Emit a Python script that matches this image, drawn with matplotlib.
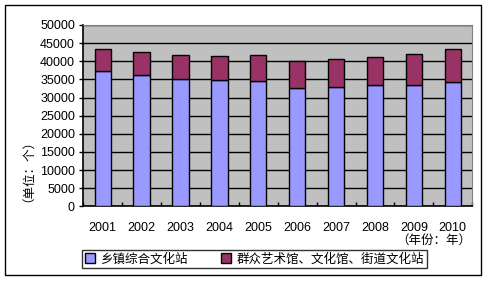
import matplotlib
matplotlib.use("Agg")
import matplotlib.pyplot as plt
from matplotlib.patches import Rectangle
import numpy as np

plt.rcParams['font.family'] = ['Liberation Sans', 'Noto Sans CJK SC', 'DejaVu Sans']

years = ['2001', '2002', '2003', '2004', '2005', '2006', '2007', '2008', '2009', '2010']
township = [37200, 36100, 35000, 34700, 34500, 32500, 32800, 33400, 33400, 34200]
totals = [43300, 42500, 41600, 41400, 41600, 40000, 40500, 41100, 41900, 43300]
others = [t - s for t, s in zip(totals, township)]
series_names = ['乡镇综合文化站', '群众艺术馆、文化馆、街道文化站']

fig = plt.figure(figsize=(4.88, 2.82), dpi=100)
ax = fig.add_axes([0.1707, 0.2684, 0.797, 0.643])
ax.set_facecolor('#C0C0C0')

x = np.arange(len(years))
ax.bar(x, township, width=0.42, color='#9999FF', edgecolor='black', linewidth=1, zorder=3, label=series_names[0])
ax.bar(x, others, bottom=township, width=0.42, color='#993366', edgecolor='black', linewidth=1, zorder=3, label=series_names[1])

ax.set_xlim(-0.5, len(years) - 0.5)
ax.set_ylim(0, 50000)
ax.set_yticks(range(0, 50001, 5000))
ax.yaxis.grid(True, color='black', linewidth=1, zorder=1)
ax.set_axisbelow(True)

ax.set_xticks(x)
ax.set_xticklabels(years, fontsize=9)
ax.set_xticks(np.arange(-0.5, len(years), 1), minor=True)
ax.tick_params(axis='x', which='major', length=0, pad=11)
ax.tick_params(axis='x', which='minor', length=3, direction='in', width=1)
ax.tick_params(axis='y', length=3, width=1, labelsize=9, pad=3)

ax.spines['top'].set_color('#808080')
ax.spines['right'].set_color('#808080')
for s in ['left', 'bottom']:
    ax.spines[s].set_linewidth(1.2)

fig.text(0.045, 0.415, '（单位：个）', rotation=90, ha='center', va='center', fontsize=9)
fig.text(0.965, 0.145, '（年份：年）', ha='right', va='center', fontsize=9)

leg = fig.legend(loc='lower left', bbox_to_anchor=(0.168, 0.048), ncol=2, fontsize=9,
                 frameon=True, fancybox=False, handlelength=0.8, handleheight=0.8,
                 handletextpad=0.4, columnspacing=2.7, borderpad=0.25, borderaxespad=0)
leg.get_frame().set_edgecolor('black')
leg.get_frame().set_linewidth(1)

fig.patches.append(Rectangle((0.0102, 0.024), 0.9755, 0.958, transform=fig.transFigure,
                             fill=False, edgecolor='black', linewidth=1))

fig.savefig('out.png', dpi=100)
